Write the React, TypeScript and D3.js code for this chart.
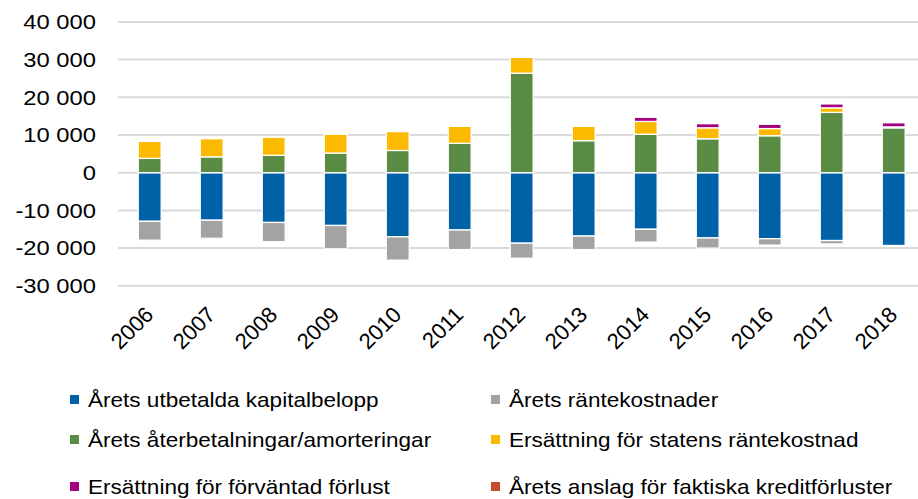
import * as d3 from "d3";

const years = ["2006", "2007", "2008", "2009", "2010", "2011", "2012", "2013", "2014", "2015", "2016", "2017", "2018"];

const utbetalda = [-12900, -12600, -13200, -14000, -17000, -15200, -18700, -16800, -15000, -17300, -17500, -18000, -19300];
const rantekostnader = [-5000, -4800, -5100, -6200, -6200, -5200, -4000, -3600, -3400, -2700, -1700, -900, 0];
const aterbetalningar = [3800, 4200, 4600, 5200, 5900, 7800, 26400, 8500, 10200, 9000, 9800, 16000, 11900];
const statensRanta = [4500, 4800, 4800, 5000, 5000, 4500, 4200, 3800, 3400, 2900, 1900, 1200, 250];
const forvantadForlust = [0, 0, 0, 0, 0, 0, 0, 0, 1100, 1100, 1200, 1100, 1100];
const kreditforluster = [0, 0, 0, 0, 0, 0, 0, 0, 0, 0, 200, 200, 0];

const yTicks = [-30000, -20000, -10000, 0, 10000, 20000, 30000, 40000];

const series = [
  { key: "utb", label: "Årets utbetalda kapitalbelopp", color: "#0061A6", values: utbetalda },
  { key: "rk", label: "Årets räntekostnader", color: "#A3A3A3", values: rantekostnader },
  { key: "ater", label: "Årets återbetalningar/amorteringar", color: "#5B8C46", values: aterbetalningar },
  { key: "stat", label: "Ersättning för statens räntekostnad", color: "#FBBA00", values: statensRanta },
  { key: "forv", label: "Ersättning för förväntad förlust", color: "#A2007E", values: forvantadForlust },
  { key: "kred", label: "Årets anslag för faktiska kreditförluster", color: "#C84B31", values: kreditforluster },
];

// legend grid: [column, row] for each series
const legendPos = [[0, 0], [1, 0], [0, 1], [1, 1], [0, 2], [1, 2]];

const width = 918;
const height = 499;
const font = "'Liberation Sans', Arial, Helvetica, sans-serif";
const axisStretch = 1.16;
const legendStretch = 1.1;

const svLocale = d3.formatLocale({ decimal: ",", thousands: " ", grouping: [3], currency: ["", " kr"], minus: "-" });
const fmt = svLocale.format(",");

export default function App() {
  const x = d3.scaleBand(years, [118.7, 924.7]).paddingInner(0.63).paddingOuter(0.315);
  const y = d3.scaleLinear([-30000, 40000], [285.8, 21.9]);

  const table = years.map((yr, i) => {
    const row: Record<string, any> = { year: yr };
    series.forEach((s) => (row[s.key] = s.values[i]));
    return row;
  });
  const stacked = d3
    .stack()
    .keys(series.map((s) => s.key))
    .offset(d3.stackOffsetDiverging)(table as any);

  const colX = [70, 491];
  const rowBase = [407, 447, 494];

  return (
    <svg width={width} height={height} style={{ position: "absolute", left: 0, top: 0, background: "#fff" }}>
      <g>
        {yTicks.map((t) => (
          <line key={t} x1={118} x2={width} y1={y(t)} y2={y(t)} stroke="#D9D9D9" strokeWidth={2} />
        ))}
      </g>
      <g>
        {yTicks.map((t) => (
          <text
            key={t}
            transform={`translate(96,${y(t)}) scale(${axisStretch},1)`}
            dy="0.36em"
            textAnchor="end"
            fontFamily={font}
            fontSize={20.5}
            fill="#000"
          >
            {fmt(t)}
          </text>
        ))}
      </g>
      <g>
        {stacked.map((layer, li) =>
          layer.map((d, i) =>
            d[1] - d[0] === 0 ? null : (
              <rect
                key={series[li].key + i}
                x={x(years[i])}
                y={y(d[1])}
                width={x.bandwidth()}
                height={y(d[0]) - y(d[1])}
                fill={series[li].color}
                stroke="#fff"
                strokeWidth={1.3}
              />
            )
          )
        )}
      </g>
      <g>
        {years.map((yr) => (
          <text
            key={yr}
            transform={`translate(${x(yr)! + x.bandwidth() / 2 + 5},${316}) rotate(-45)`}
            textAnchor="end"
            fontFamily={font}
            fontSize={22}
            fill="#000"
          >
            {yr}
          </text>
        ))}
      </g>
      <g>
        {series.map((s, i) => {
          const [c, r] = legendPos[i];
          return (
            <g key={s.key}>
              <rect x={colX[c]} y={rowBase[r] - 12} width={9} height={9} fill={s.color} />
              <text
                transform={`translate(${colX[c] + 18},${rowBase[r]}) scale(${legendStretch},1)`}
                fontFamily={font}
                fontSize={20.5}
                fill="#000"
              >
                {s.label}
              </text>
            </g>
          );
        })}
      </g>
    </svg>
  );
}
